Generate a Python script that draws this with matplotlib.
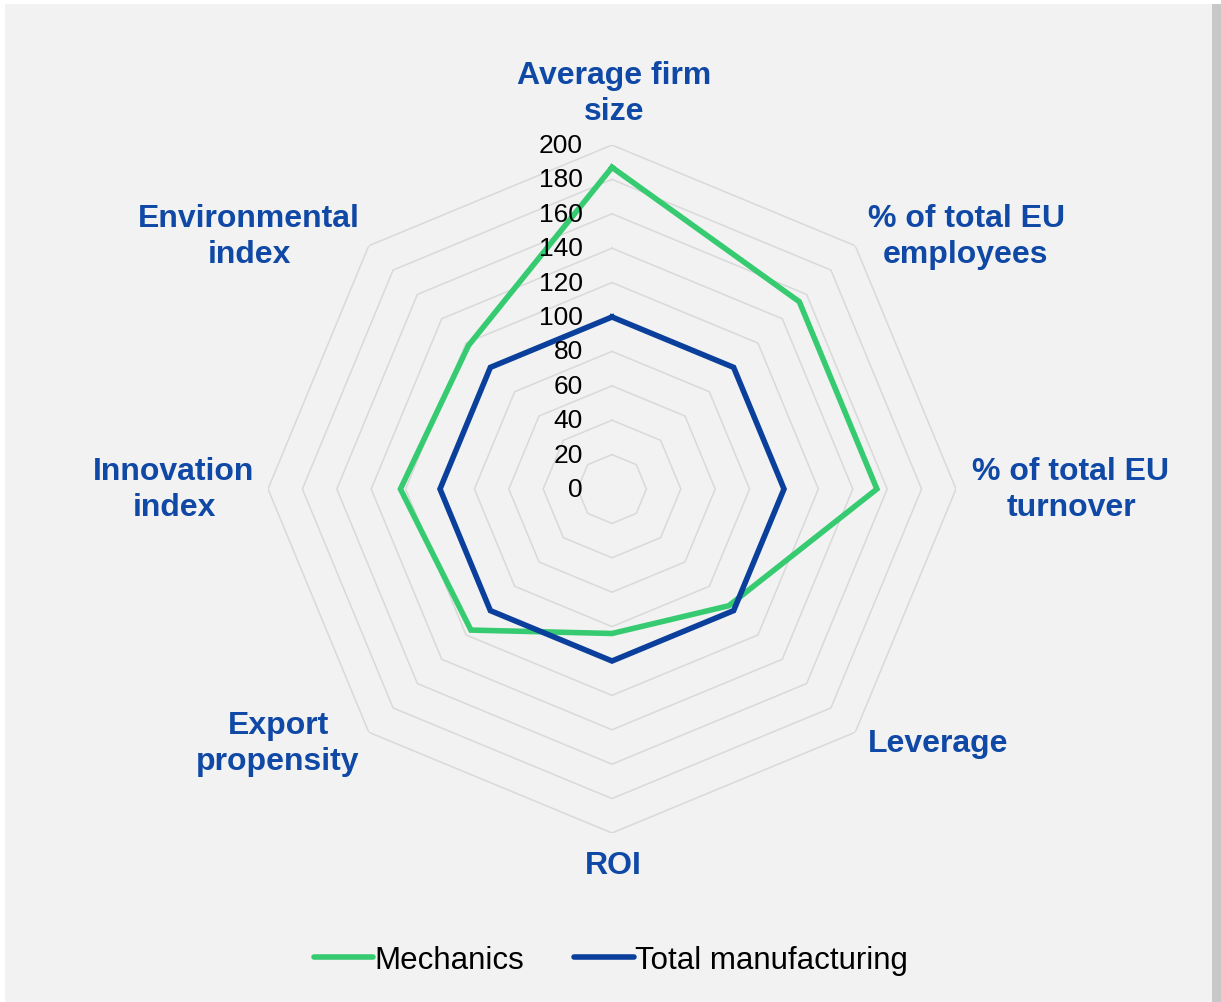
import numpy as np
import matplotlib.pyplot as plt
from matplotlib.patches import Rectangle

plt.rcParams['font.family'] = ['Liberation Sans', 'DejaVu Sans']

categories = ["Average firm\nsize", "% of total EU\nemployees", "% of total EU\nturnover",
              "Leverage", "ROI", "Export\npropensity", "Innovation\nindex", "Environmental\nindex"]
mechanics = [187, 154, 154, 96, 84, 116, 123, 118]
total_manufacturing = [100, 100, 100, 100, 100, 100, 100, 100]
ring_levels = [20, 40, 60, 80, 100, 120, 140, 160, 180, 200]
tick_labels = ["0", "20", "40", "60", "80", "100", "120", "140", "160", "180", "200"]

GREEN = "#36CB70"
BLUE = "#0B3F9C"
LABEL_BLUE = "#1048A6"

W, H = 1221, 1003
fig = plt.figure(figsize=(W / 100, H / 100), dpi=100)
fig.patch.set_facecolor("white")

# chart area with a soft shadow on the right
fig.patches.append(Rectangle((1209 / W, 0), 12 / W, 1 - 5 / H, transform=fig.transFigure,
                             facecolor="#C8C8C8", edgecolor="none", zorder=-2))
fig.patches.append(Rectangle((5 / W, 0), 1207 / W, 1 - 5 / H, transform=fig.transFigure,
                             facecolor="#F2F2F2", edgecolor="none", zorder=-1))

cx, cy, rad = 612, 490, 344
ax = fig.add_axes([(cx - rad) / W, (H - cy - rad) / H, 2 * rad / W, 2 * rad / H],
                  projection="polar")
ax.set_facecolor("none")
ax.set_theta_offset(np.pi / 2)
ax.set_theta_direction(-1)
ax.set_ylim(0, 200)
ax.grid(False)
ax.spines["polar"].set_visible(False)
ax.set_xticks([])
ax.set_yticks([])

n = len(categories)
theta = np.linspace(0, 2 * np.pi, n, endpoint=False)
theta_closed = np.append(theta, theta[0])

for lvl in ring_levels:
    ax.plot(theta_closed, [lvl] * (n + 1), color="#D9D9D9", lw=1.1, zorder=1)

ax.plot(theta_closed, mechanics + mechanics[:1], color=GREEN, lw=4, zorder=3,
        solid_joinstyle="miter", label="Mechanics")
ax.plot(theta_closed, total_manufacturing + total_manufacturing[:1], color=BLUE, lw=4,
        zorder=3, solid_joinstyle="miter", label="Total manufacturing")

# value scale along the top axis
for i, t in enumerate(tick_labels):
    ax.annotate(t, (0, i * 20), xytext=(-21, 0), textcoords="offset points",
                ha="right", va="center", fontsize=19, color="black", zorder=4)

# category labels
label_pos = [(614, 94), (966, 237), (1071, 490), (938, 744),
             (613, 866), (278, 744), (174, 490), (249, 237)]
for name, (px, py) in zip(categories, label_pos):
    fig.text(px / W, 1 - py / H, name, ha="center", va="center", fontsize=23,
             fontweight="bold", color=LABEL_BLUE, linespacing=1.3)

leg = fig.legend(loc="center", bbox_to_anchor=(611 / W, 1 - 961 / H), ncol=2,
                 frameon=False, fontsize=22.5, handlelength=1.9, handletextpad=0.05,
                 columnspacing=1.6)
for h in leg.legend_handles:
    h.set_solid_capstyle("round")

fig.savefig("out.png", dpi=100)
